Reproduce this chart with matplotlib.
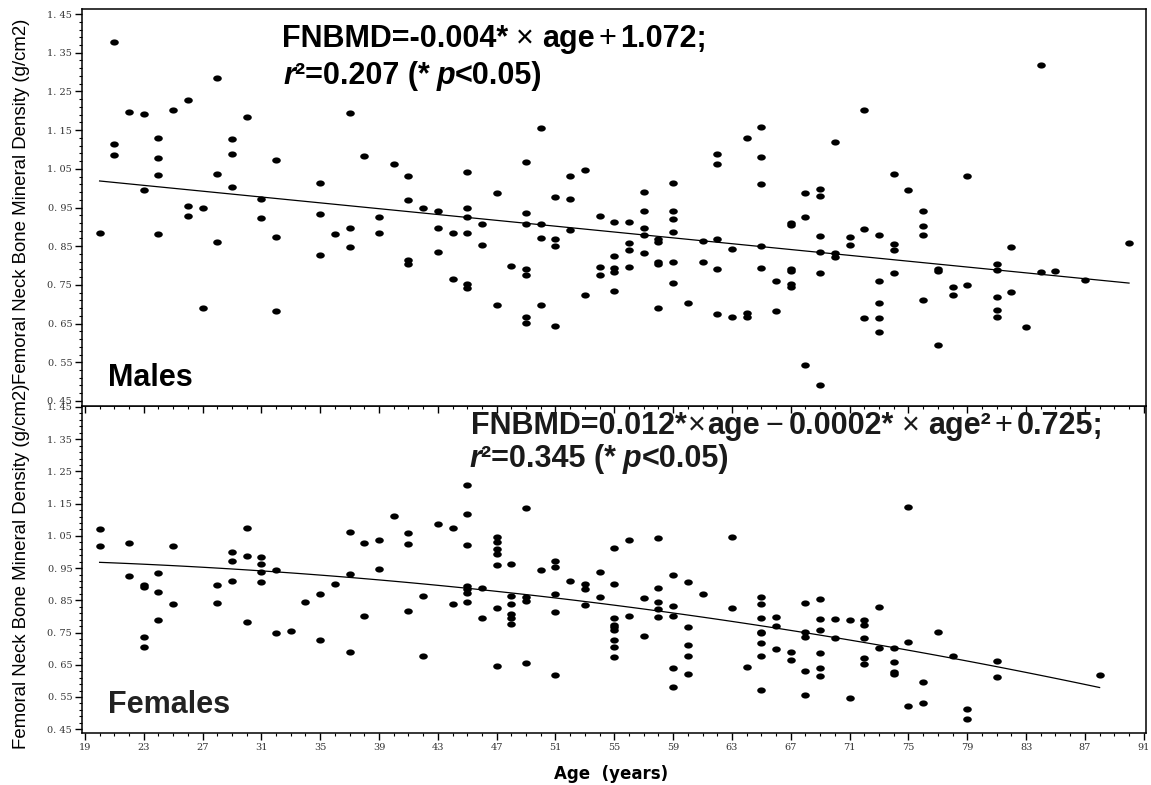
import numpy as np
import matplotlib
matplotlib.use("Agg")
import matplotlib.pyplot as plt
from matplotlib.path import Path
from matplotlib.ticker import FuncFormatter

# ---- data ----
male_ages = [20, 21, 22, 23, 24, 25, 26, 27, 28, 29, 30, 31, 32, 35, 36, 37, 38, 39, 40,
             41, 42, 43, 44, 45, 46, 47, 48, 49, 50, 51, 52, 53, 54, 55, 56, 57, 58, 59,
             60, 61, 62, 63, 64, 65, 66, 67, 68, 69, 70, 71, 72, 73, 74, 75, 76, 77, 78,
             79, 81, 82, 83, 84, 85, 87, 90]
male_bmd = [[0.883], [1.379, 1.113, 1.086], [1.196], [1.192, 0.994],
            [1.130, 1.077, 1.035, 0.881], [1.202], [1.227, 0.953, 0.929], [0.950, 0.690],
            [1.286, 1.036, 0.862], [1.128, 1.089, 1.004], [1.184], [0.973, 0.924],
            [1.073, 0.873, 0.683], [1.014, 0.933, 0.828], [0.881], [1.193, 0.896, 0.849],
            [1.082], [0.925, 0.885], [1.063], [1.032, 0.969, 0.814, 0.804], [0.949],
            [0.940, 0.898, 0.836], [0.885, 0.765], [1.042, 0.950, 0.925, 0.883, 0.752, 0.743],
            [0.907, 0.853], [0.988, 0.699], [0.800],
            [1.067, 0.935, 0.907, 0.790, 0.776, 0.668, 0.652], [1.156, 0.907, 0.870, 0.698],
            [0.978, 0.868, 0.851, 0.645], [1.032, 0.971, 0.892], [1.046, 0.724],
            [0.929, 0.795, 0.776], [0.913, 0.825, 0.793, 0.784, 0.734],
            [0.913, 0.857, 0.839, 0.796], [0.991, 0.941, 0.896, 0.878, 0.832],
            [0.868, 0.862, 0.810, 0.804, 0.690], [1.014, 0.941, 0.920, 0.886, 0.808, 0.756],
            [0.704], [0.863, 0.808], [1.088, 1.062, 0.868, 0.790, 0.675], [0.842, 0.667],
            [1.129, 0.677, 0.666], [1.159, 1.080, 1.012, 0.851, 0.793], [0.759, 0.682],
            [0.909, 0.905, 0.791, 0.785, 0.752, 0.744], [0.987, 0.925, 0.542],
            [0.999, 0.979, 0.876, 0.834, 0.780, 0.491], [1.119, 0.833, 0.823], [0.873, 0.854],
            [1.203, 0.894, 0.664], [0.878, 0.759, 0.702, 0.664, 0.627],
            [1.036, 0.855, 0.841, 0.782], [0.996], [0.941, 0.903, 0.879, 0.711],
            [0.790, 0.785, 0.595], [0.745, 0.725], [1.031, 0.750],
            [0.805, 0.789, 0.719, 0.684, 0.667], [0.847, 0.731], [0.641], [1.318, 0.783],
            [0.786], [0.762], [0.858]]

female_ages = [20, 22, 23, 24, 25, 28, 29, 30, 31, 32, 33, 34, 35, 36, 37, 38, 39, 40, 41,
               42, 43, 44, 45, 46, 47, 48, 49, 50, 51, 52, 53, 54, 55, 56, 57, 58, 59, 60,
               61, 63, 64, 65, 66, 67, 68, 69, 70, 71, 72, 73, 74, 75, 76, 77, 78, 79, 81, 88]
female_bmd = [[1.072, 1.018], [1.029, 0.925], [0.896, 0.892, 0.737, 0.704],
              [0.934, 0.876, 0.789], [1.020, 0.840], [0.897, 0.842], [1.001, 0.973, 0.909],
              [1.075, 0.986, 0.782], [0.985, 0.964, 0.939, 0.907], [0.943, 0.748], [0.755],
              [0.844], [0.868, 0.726], [0.901], [1.062, 0.932, 0.689], [1.027, 0.801],
              [1.036, 0.946], [1.111], [1.060, 1.025, 0.816], [0.862, 0.678], [1.086],
              [1.075, 0.838], [1.207, 1.117, 1.021, 0.895, 0.884, 0.873, 0.844], [0.887, 0.794],
              [1.045, 1.030, 1.010, 0.995, 0.960, 0.826, 0.647],
              [0.964, 0.864, 0.838, 0.807, 0.796, 0.775], [1.137, 0.859, 0.847, 0.654], [0.944],
              [0.972, 0.953, 0.871, 0.814, 0.618], [0.910], [0.899, 0.885, 0.835], [0.937, 0.861],
              [1.012, 0.902, 0.794, 0.773, 0.768, 0.757, 0.726, 0.704, 0.675], [1.036, 0.802],
              [0.856, 0.740], [1.044, 0.887, 0.845, 0.823, 0.797],
              [0.927, 0.832, 0.801, 0.639, 0.581], [0.906, 0.767, 0.711, 0.678, 0.620], [0.869],
              [1.047, 0.826], [0.643], [0.861, 0.838, 0.795, 0.752, 0.749, 0.718, 0.678, 0.571],
              [0.797, 0.770, 0.700], [0.688, 0.664], [0.842, 0.753, 0.737, 0.631, 0.556],
              [0.853, 0.792, 0.757, 0.686, 0.639, 0.614], [0.792, 0.733], [0.790, 0.548],
              [0.788, 0.774, 0.733, 0.672, 0.653], [0.829, 0.703], [0.703, 0.657, 0.626, 0.620],
              [1.139, 0.722, 0.521], [0.595, 0.530], [0.751], [0.677], [0.512, 0.481],
              [0.661, 0.613], [0.619]]

# fitted curves as drawn (polynomial coefficients, highest power first)
male_fit = [-0.00377, 1.094]
male_fit_range = (20, 90)
female_fit = [-0.000058, 0.00055, 0.980]
female_fit_range = (20, 88)

xticks = np.arange(19, 92, 4)
yticks = np.arange(0.45, 1.46, 0.1)

# ---- figure ----
fig = plt.figure(figsize=(11.51, 7.85), dpi=100)
ax_f = fig.add_axes([0.0712, 0.0662, 0.9244, 0.4166])
ax_m = fig.add_axes([0.0712, 0.4828, 0.9244, 0.5057])
ax_m.set_zorder(3)  # so its outward x ticks sit over the lower panel

# slightly flattened dot
th = np.linspace(0, 2 * np.pi, 41)
dot = Path(np.column_stack([np.cos(th), 0.72 * np.sin(th)]), closed=True)

ytick_fmt = FuncFormatter(lambda v, p: f"{v:.2f}".replace(".", ". "))


def panel(ax, ages, bmd, fit, fit_range, ylim):
    x = np.repeat(ages, [len(b) for b in bmd])
    y = np.concatenate(bmd)
    ax.scatter(x, y, marker=dot, s=38, c="black", linewidths=0, zorder=3)
    xx = np.linspace(fit_range[0], fit_range[1], 100)
    ax.plot(xx, np.polyval(fit, xx), color="black", linewidth=0.9, zorder=2)

    ax.set_xlim(18.8, 91.15)
    ax.set_ylim(*ylim)
    ax.set_xticks(xticks)
    ax.set_xticks(np.arange(19, 92, 1), minor=True)
    ax.set_yticks(yticks)
    ax.set_yticks(np.arange(0.45, 1.455, 0.02), minor=True)
    ax.yaxis.set_major_formatter(ytick_fmt)
    ax.tick_params(which="major", direction="out", length=5, width=1,
                   labelsize=7, labelcolor="#333333", pad=2)
    ax.tick_params(which="minor", direction="out", length=2.5, width=0.8)
    for lab in ax.get_xticklabels() + ax.get_yticklabels():
        lab.set_family("DejaVu Serif")
    for sp in ax.spines.values():
        sp.set_linewidth(1.1)


panel(ax_m, male_ages, male_bmd, male_fit, male_fit_range, (0.437, 1.463))
panel(ax_f, female_ages, female_bmd, female_fit, female_fit_range, (0.438, 1.453))
ax_m.tick_params(axis="x", labelbottom=False)

ylab = "Femoral Neck Bone Mineral Density (g/cm2)"
fig.text(0.0189, 0.744, ylab, rotation=90, ha="center", va="center", fontsize=13.4,
         family="Liberation Sans")
fig.text(0.0189, 0.279, ylab, rotation=90, ha="center", va="center", fontsize=13.4,
         family="Liberation Sans")
fig.text(0.531, 0.014, "Age  (years)", ha="center", va="center", fontsize=12,
         fontweight="bold", family="DejaVu Sans")

fig.text(0.0938, 0.508, "Males", fontsize=22, fontweight="bold", family="Liberation Sans")
fig.text(0.0938, 0.0917, "Females", fontsize=22, fontweight="bold", family="Liberation Sans",
         color="#222222")

# ---- equations, built from pieces so weights/styles can differ ----
renderer = fig.canvas.get_renderer()
B, N, BI = ("bold", "normal"), ("normal", "normal"), ("bold", "italic")


def chain(x_px, y_px, parts, size, color):
    x = x_px
    for s, (w, st), gap in parts:
        t = fig.text(x / 1151, 1 - y_px / 785, s, ha="left", va="baseline", fontsize=size,
                     fontweight=w, style=st, family="Liberation Sans", color=color)
        x += t.get_window_extent(renderer=renderer).width + gap


chain(282, 47, [("FNBMD=-0.004*", B, 8), ("\u00d7", N, 8), ("age", B, 4), ("+", N, 4),
                ("1.072;", B, 0)], 22, "black")
chain(283, 84, [("r", BI, 0), ("\u00b2=0.207 (*", B, 7), ("p", BI, 0), ("<0.05)", B, 0)],
      22, "black")
chain(471, 434, [("FNBMD=0.012*", B, 1), ("\u00d7", N, 1), ("age", B, 6), ("\u2212", N, 6),
                 ("0.0002*", B, 8), ("\u00d7", N, 8), ("age\u00b2", B, 4), ("+", N, 4),
                 ("0.725;", B, 0)], 22, "#1a1a1a")
chain(469, 467, [("r", BI, 0), ("\u00b2=0.345 (*", B, 7), ("p", BI, 0), ("<0.05)", B, 0)],
      22, "#1a1a1a")

fig.savefig("out.png", dpi=100)
